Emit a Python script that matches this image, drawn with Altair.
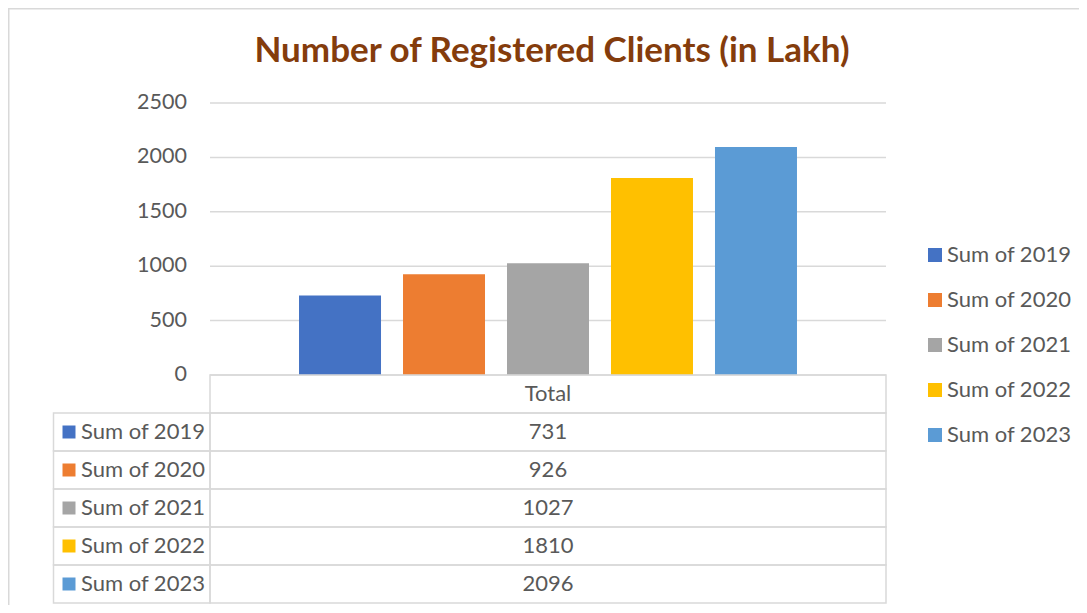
import altair as alt
import pandas as pd

# ---- data ----
series = ["Sum of 2019", "Sum of 2020", "Sum of 2021", "Sum of 2022", "Sum of 2023"]
values = [731, 926, 1027, 1810, 2096]
colors = ["#4472C4", "#ED7D31", "#A5A5A5", "#FFC000", "#5B9BD5"]
y_ticks = [0, 500, 1000, 1500, 2000, 2500]
category = "Total"
title_text = "Number of Registered Clients (in Lakh)"

FONT = "Lato"
TXT = "#595959"
GRID = "#d9d9d9"
W, H = 1071, 597

df = pd.DataFrame({"series": series, "value": values})
rows = [category] + series
table_df = pd.DataFrame({"row": rows, "cell": [category] + [str(v) for v in values]})
ticks_df = pd.DataFrame({"tick": y_ticks})
title_df = pd.DataFrame({"t": [title_text]})

color_scale = alt.Scale(domain=series, range=colors)
y_val = alt.Scale(domain=[0, 2500], range=[367, 95], nice=False, zero=True)
row_scale = alt.Scale(domain=rows, range=[367, 595], paddingInner=0, paddingOuter=0)
leg_scale = alt.Scale(type="point", domain=series, range=[247, 427], padding=0)

# outer frame
frame_left = alt.Chart(title_df).mark_rule(color=GRID, strokeWidth=1.5).encode(
    x=alt.value(0.75), y=alt.value(0), y2=alt.value(H))
frame_top = alt.Chart(title_df).mark_rule(color=GRID, strokeWidth=1.5).encode(
    x=alt.value(0), x2=alt.value(W), y=alt.value(0.75))

title = alt.Chart(title_df).mark_text(
    font=FONT, fontSize=35, fontWeight="bold", color="#843C0C",
    align="center", baseline="middle").encode(
    x=alt.value(544), y=alt.value(43), text="t:N")

grid = alt.Chart(ticks_df).mark_rule(color=GRID, strokeWidth=1.5).encode(
    y=alt.Y("tick:Q", scale=y_val, axis=None),
    x=alt.value(202), x2=alt.value(878))

ylabels = alt.Chart(ticks_df).mark_text(
    font=FONT, fontSize=21.5, color=TXT, align="right", baseline="middle").encode(
    y=alt.Y("tick:Q", scale=y_val, axis=None),
    x=alt.value(179), text="tick:Q")

bars = alt.Chart(df).mark_bar().encode(
    x=alt.X("series:N", scale=alt.Scale(domain=series, range=[202, 878],
                                        paddingInner=22 / 104, paddingOuter=0.856),
            axis=None),
    y=alt.Y("value:Q", scale=y_val, axis=None),
    color=alt.Color("series:N", scale=color_scale, legend=None))

# data table
value_cells = alt.Chart(table_df).mark_rect(
    fillOpacity=0, stroke=GRID, strokeWidth=1.5).encode(
    y=alt.Y("row:N", scale=row_scale, axis=None),
    x=alt.value(202), x2=alt.value(878))

label_cells = alt.Chart(df).mark_rect(
    fillOpacity=0, stroke=GRID, strokeWidth=1.5).encode(
    y=alt.Y("series:N", scale=row_scale, axis=None),
    x=alt.value(45.5), x2=alt.value(202))

cell_text = alt.Chart(table_df).mark_text(
    font=FONT, fontSize=22, color=TXT, align="center", baseline="middle").encode(
    y=alt.Y("row:N", scale=row_scale, axis=None),
    x=alt.value(540), text="cell:N")

tab_swatch = alt.Chart(df).mark_square(size=169, opacity=1).encode(
    y=alt.Y("series:N", scale=row_scale, axis=None),
    x=alt.value(61),
    color=alt.Color("series:N", scale=color_scale, legend=None))

tab_label = alt.Chart(df).mark_text(
    font=FONT, fontSize=22, color=TXT, align="left", baseline="middle").encode(
    y=alt.Y("series:N", scale=row_scale, axis=None),
    x=alt.value(73), text="series:N")

# legend
leg_swatch = alt.Chart(df).mark_square(size=196, opacity=1).encode(
    y=alt.Y("series:N", scale=leg_scale, axis=None),
    x=alt.value(927),
    color=alt.Color("series:N", scale=color_scale, legend=None))

leg_label = alt.Chart(df).mark_text(
    font=FONT, fontSize=22, color=TXT, align="left", baseline="middle").encode(
    y=alt.Y("series:N", scale=leg_scale, axis=None),
    x=alt.value(939), text="series:N")

chart = alt.layer(
    frame_left, frame_top, title, grid, ylabels, bars,
    value_cells, label_cells, cell_text, tab_swatch, tab_label,
    leg_swatch, leg_label
).resolve_scale(x="independent", y="independent").properties(
    width=W, height=H,
    autosize=alt.AutoSizeParams(type="none"),
    padding=0,
).configure_view(stroke=None).configure(background="white")

chart.save("out.html", embed_options={"renderer": "svg", "actions": False})
